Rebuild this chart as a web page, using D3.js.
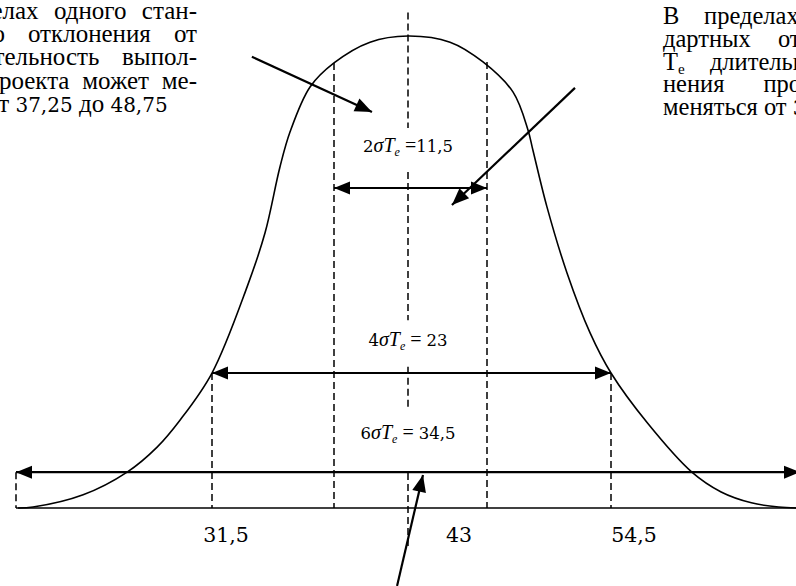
<!DOCTYPE html>
<html>
<head>
<meta charset="utf-8">
<script src="https://cdn.jsdelivr.net/npm/d3@7"></script>
</head>
<body style="margin:0;background:#fff">
<div id="chart"></div>
<script>
// T values at the sigma marks (the drawing is not to scale, so a polylinear scale)
const sigmaMarks = [25.75, 31.5, 37.25, 43, 48.75, 54.5, 60.25];
const tickValues = [31.5, 43, 54.5];
const tickLabels = ["31,5", "43", "54,5"];

// the three ranges: 2σ, 4σ, 6σ
const spanK = [2, 4, 6];
const spanFrom = [37.25, 31.5, 25.75];
const spanTo = [48.75, 54.5, 60.25];
const spanText = ["11,5", "23", "34,5"];
const spanLevel = [67.8, 28.6, 7.6];      // curve height (% of peak) of each arrow

// bell curve: T and height in % of the peak
const curveT = [25.81, 26.25, 27.72, 29.01, 29.89, 30.56, 31.5, 33.15, 34.0, 34.7, 35.18, 36.12,
  37.25, 40.05, 43.0, 46.06, 48.46, 49.96, 50.65, 50.88, 51.53, 52.46, 53.53, 54.5, 55.61,
  56.96, 57.85, 58.77, 59.6, 60.2];
const curveH = [0, 0.2, 2.8, 7.6, 12.9, 18.6, 28.6, 46.8, 58.3, 72.2, 79.7, 89.2,
  94.3, 98.7, 100, 98.7, 94.5, 88.1, 80.1, 75.8, 63.8, 49.8, 37.1, 28.6, 18.0,
  7.6, 3.4, 1.1, 0.2, 0];

// dashed verticals: T and top height
const dashT = [25.75, 31.5, 37.25, 48.75, 54.5];
const dashTop = [7.6, 28.6, 94.3, 94.5, 28.6];
// the centre line at T = 43 is broken around the labels
const centreSegments = [[105, 80.5], [71.2, 39.8], [29.9, 20.8], [7.4, -8.3]];

// pointer arrows [T, height] start -> tip
const pointerFrom = [[33.38, 95.6], [52.83, 89.0], [42.15, -16.5]];
const pointerTo = [[40.2, 83.9], [46.2, 64.2], [44.09, 7.0]];

const leftText = [
  ["В", "пределах", "одного", "стан-"],
  ["дартного", "отклонения", "от"],
  ["T_e", "длительность", "выпол-"],
  ["нения", "проекта", "может", "ме-"],
  ["няться", "от", "37,25", "до", "48,75"]
];
const rightText = [
  ["В", "пределах", "двух", "стан-"],
  ["дартных", "отклонений", "от"],
  ["T_e", "длительность", "выпол-"],
  ["нения", "проекта", "может"],
  ["меняться", "от", "31,5", "до", "54,5"]
];

const SERIF = "Liberation Serif";
const DIGITS = "DejaVu Serif";   // its digits keep their serifs here

const width = 796, height = 586;

const svg = d3.select("#chart").append("svg")
  .attr("width", width)
  .attr("height", height)
  .style("display", "block");

const x = d3.scaleLinear()
  .domain(sigmaMarks)
  .range([16, 212, 334, 408, 487, 611, 800]);
const y = d3.scaleLinear().domain([0, 100]).range([508, 36]);

// arrow head as a filled triangle with its tip at (tx, ty)
function head(g, fx, fy, tx, ty, len, half) {
  const a = Math.atan2(ty - fy, tx - fx);
  const bx = tx - len * Math.cos(a), by = ty - len * Math.sin(a);
  const nx = -Math.sin(a) * half, ny = Math.cos(a) * half;
  g.append("path")
    .attr("d", `M${tx},${ty}L${bx + nx},${by + ny}L${bx - nx},${by - ny}Z`)
    .attr("fill", "#000");
}

// baseline
svg.append("line")
  .attr("x1", x(25.75)).attr("x2", width)
  .attr("y1", y(0)).attr("y2", y(0))
  .attr("stroke", "#000").attr("stroke-width", 1.6);

// dashed verticals
svg.selectAll("line.dash")
  .data(dashT)
  .join("line")
  .attr("class", "dash")
  .attr("x1", d => x(d)).attr("x2", d => x(d))
  .attr("y1", (d, i) => y(dashTop[i])).attr("y2", y(0))
  .attr("stroke", "#000").attr("stroke-width", 1.5)
  .attr("stroke-dasharray", "7,4");

svg.selectAll("line.centre")
  .data(centreSegments)
  .join("line")
  .attr("class", "centre")
  .attr("x1", x(43)).attr("x2", x(43))
  .attr("y1", d => y(d[0])).attr("y2", d => y(d[1]))
  .attr("stroke", "#000").attr("stroke-width", 1.5)
  .attr("stroke-dasharray", "7,4");

// curve
const line = d3.line()
  .x(d => x(d[0]))
  .y(d => y(d[1]))
  .curve(d3.curveCatmullRom.alpha(0.5));

svg.append("path")
  .datum(curveT.map((t, i) => [t, curveH[i]]))
  .attr("d", line)
  .attr("fill", "none")
  .attr("stroke", "#000")
  .attr("stroke-width", 1.6);

// double arrows for the ranges
const spans = svg.append("g");
spanK.forEach((k, i) => {
  const x1 = x(spanFrom[i]), x2 = x(spanTo[i]), yy = y(spanLevel[i]);
  spans.append("line")
    .attr("x1", x1).attr("x2", x2)
    .attr("y1", yy).attr("y2", yy)
    .attr("stroke", "#000").attr("stroke-width", 2.2);
  head(spans, x2, yy, x1, yy, 16, 6.5);
  head(spans, x1, yy, x2, yy, 16, 6.5);
});

// range labels like 2σTe = 11,5
const labelLevel = [75.4, 34.3, 14.6];
spanK.forEach((k, i) => {
  const t = svg.append("text")
    .attr("x", x(43))
    .attr("y", y(labelLevel[i]))
    .attr("text-anchor", "middle")
    .attr("font-family", SERIF)
    .attr("font-size", 20);
  t.append("tspan").attr("font-family", DIGITS).attr("font-size", 16.5).text(k);
  t.append("tspan").attr("font-style", "italic").text("σT");
  t.append("tspan").attr("font-style", "italic").attr("font-size", 12).attr("dy", 4).text("e");
  t.append("tspan").attr("dy", -4).text(i === 0 ? " =" : " = ");
  t.append("tspan").attr("font-family", DIGITS).attr("font-size", 16.5).text(spanText[i]);
});

// pointer arrows
const pointers = svg.append("g");
pointerFrom.forEach((p, i) => {
  const fx = x(p[0]), fy = y(p[1]);
  const tx = x(pointerTo[i][0]), ty = y(pointerTo[i][1]);
  pointers.append("line")
    .attr("x1", fx).attr("y1", fy)
    .attr("x2", tx).attr("y2", ty)
    .attr("stroke", "#000").attr("stroke-width", 2.2);
  head(pointers, fx, fy, tx, ty, 17, 7);
});

// tick labels under the axis
const tickDx = [14, 51, 23];
svg.selectAll("text.tick")
  .data(tickValues)
  .join("text")
  .attr("class", "tick")
  .attr("x", (d, i) => x(d) + tickDx[i])
  .attr("y", 542)
  .attr("text-anchor", "middle")
  .attr("font-family", DIGITS)
  .attr("font-size", 20.5)
  .text((d, i) => tickLabels[i]);

// justified paragraph, one text element per word
function word(g, w, px, py, fs) {
  const t = g.append("text").attr("x", px).attr("y", py)
    .attr("font-family", SERIF).attr("font-size", fs);
  if (w === "T_e") {
    t.append("tspan").text("T");
    t.append("tspan").attr("font-size", fs * 0.62).attr("dy", 4).text("e");
  } else if (/^[\d,]+$/.test(w)) {
    t.attr("font-family", DIGITS).attr("font-size", fs * 0.8).text(w);
  } else {
    t.text(w);
  }
  return t;
}

function paragraph(lines, x0, x1, y0, lh, fs) {
  const g = svg.append("g");
  lines.forEach((ws, li) => {
    const py = y0 + li * lh;
    const nodes = ws.map(w => word(g, w, 0, py, fs));
    const widths = nodes.map(n => n.node().getComputedTextLength());
    const sum = d3.sum(widths);
    const last = li === lines.length - 1;
    const gap = last ? fs * 0.25 : (x1 - x0 - sum) / (ws.length - 1);
    let cx = x0;
    nodes.forEach((n, j) => {
      n.attr("x", cx);
      cx += widths[j] + gap;
    });
  });
  return g;
}

const colW = 287;
paragraph(leftText, 197 - colW, 197, 18.5, 23.4, 25);
paragraph(rightText, 663, 663 + colW, 24, 22.8, 24.5);
</script>
</body>
</html>
